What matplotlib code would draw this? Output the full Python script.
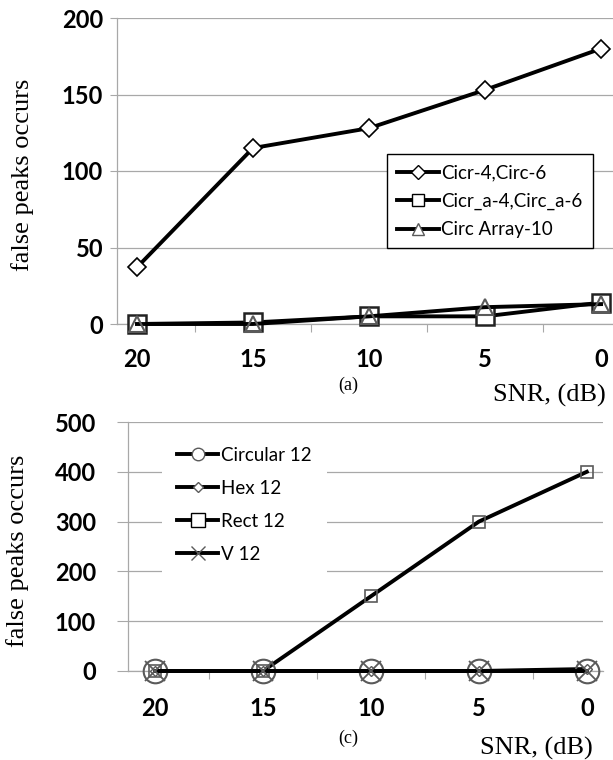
import numpy as np
import matplotlib
matplotlib.use('Agg')
import matplotlib.pyplot as plt
from matplotlib.lines import Line2D

# donnees
snr = ['20', '15', '10', '5', '0']

circ46 = [37, 115, 128, 153, 180]      # Cicr-4,Circ-6
circa46 = [0, 1, 5, 5, 14]             # Cicr_a-4,Circ_a-6
circ10 = [0, 0, 5, 11, 13]             # Circ Array-10

circular12 = [0, 0, 0, 0, 0]
hex12 = [0, 0, 0, 0, 4]
rect12 = [0, 0, 150, 300, 400]
v12 = [0, 0, 0, 0, 0]

W, H = 613, 760
grid_col = '#a8a8a8'
mark_col = '#5a5a5a'
tick_font = dict(family='Lato', weight='bold', size=17)
serif = 'Liberation Serif'

fig = plt.figure(figsize=(W / 100, H / 100), dpi=100)
ax1 = fig.add_axes([117 / W, 1 - 324 / H, (613 - 117) / W, (324 - 18) / H])
ax2 = fig.add_axes([128 / W, 1 - 671 / H, (603 - 128) / W, (671 - 422) / H])

x = np.arange(len(snr))


def style_axes(ax, ymax, step, xlim, ylen, ypad, xpad):
    ax.set_xlim(*xlim)
    ax.set_ylim(0, ymax)
    ax.set_yticks(np.arange(0, ymax + 1, step))
    ax.set_xticks(x)
    ax.set_xticklabels(snr, fontdict=tick_font)
    ax.set_yticklabels([str(v) for v in np.arange(0, ymax + 1, step)], fontdict=tick_font)
    ax.set_xticks(x[:-1] + 0.5, minor=True)
    ax.tick_params(axis='x', which='major', length=0, pad=xpad)
    ax.tick_params(axis='x', which='minor', length=6, width=0.8, color=grid_col, direction='out')
    ax.tick_params(axis='y', length=ylen, width=0.8, color=grid_col, pad=ypad)
    ax.yaxis.grid(True, color=grid_col, linewidth=0.9)
    ax.set_axisbelow(True)
    for s in ['top', 'right']:
        ax.spines[s].set_visible(False)
    for s in ['left', 'bottom']:
        ax.spines[s].set_color(grid_col)
        ax.spines[s].set_linewidth(0.9)


style_axes(ax1, 200, 50, (-0.172, 4.103), 5, 5, 17)
style_axes(ax2, 500, 100, (-0.25, 4.15), 8, 15, 19)

lw = 2.8
# (a)
ax1.plot(x, circ46, color='black', lw=lw, marker='D', ms=9.5, mfc='white',
         mec='black', mew=1.2, clip_on=False, zorder=3)
ax1.plot(x, circa46, color='black', lw=lw, marker='s', ms=13, mfc='white',
         mec='#222222', mew=1.8, clip_on=False, zorder=3)
ax1.plot(x, circ10, color='black', lw=lw, marker='^', ms=12, mfc='none',
         mec=mark_col, mew=1.5, clip_on=False, zorder=4)

h1 = [Line2D([], [], color='black', lw=lw, marker='D', ms=7, mfc='white', mec='black', mew=1),
      Line2D([], [], color='black', lw=lw, marker='s', ms=9, mfc='white', mec='black', mew=1),
      Line2D([], [], color='black', lw=lw, marker='^', ms=9, mfc='white', mec=mark_col, mew=1)]
leg1 = ax1.legend(h1, ['Cicr-4,Circ-6', 'Cicr_a-4,Circ_a-6', 'Circ Array-10'],
                  loc='upper left', bbox_to_anchor=(387 / W, 1 - 154 / H),
                  bbox_transform=fig.transFigure, prop=dict(family='Lato', size=13.5),
                  frameon=True, fancybox=False, edgecolor='black', framealpha=1,
                  handlelength=2.2, handletextpad=0.15, labelspacing=0.6,
                  borderpad=0.55, borderaxespad=0)
leg1.get_frame().set_linewidth(1)

# (c)
ax2.plot(x, rect12, color='black', lw=lw, marker='s', ms=8, mfc='none',
         mec=mark_col, mew=1.2, clip_on=False, zorder=3)
ax2.plot(x, hex12, color='black', lw=lw, marker='D', ms=5, mfc='white',
         mec=mark_col, mew=1, clip_on=False, zorder=3)
ax2.plot(x, circular12, color='black', lw=lw, marker='o', ms=17, mfc='none',
         mec=mark_col, mew=1.5, clip_on=False, zorder=4)
ax2.plot(x, v12, color='black', lw=lw, marker='x', ms=15, mec=mark_col,
         mew=1.3, clip_on=False, zorder=4)

h2 = [Line2D([], [], color='black', lw=lw, marker='o', ms=9, mfc='white', mec=mark_col, mew=1),
      Line2D([], [], color='black', lw=lw, marker='D', ms=5, mfc='white', mec=mark_col, mew=1),
      Line2D([], [], color='black', lw=lw, marker='s', ms=10, mfc='white', mec='black', mew=1),
      Line2D([], [], color='black', lw=lw, marker='x', ms=10, mec=mark_col, mew=1)]
leg2 = ax2.legend(h2, ['Circular 12', 'Hex 12', 'Rect 12', 'V 12'],
                  loc='upper left', bbox_to_anchor=(162 / W, 1 - 432 / H),
                  bbox_transform=fig.transFigure, prop=dict(family='Lato', size=13.5),
                  frameon=True, fancybox=False, edgecolor='none', framealpha=1,
                  handlelength=2.2, handletextpad=0.15, labelspacing=0.85,
                  borderpad=0.8, borderaxespad=0)

# titres d'axes et legendes des sous-figures
for ylab_x, ylab_y in [(23, 175), (18, 551)]:
    fig.text(ylab_x / W, 1 - ylab_y / H, 'false peaks occurs', rotation=90,
             ha='center', va='center', family=serif, fontsize=19)
fig.text(348 / W, 1 - 385 / H, '(a)', ha='center', va='center', family=serif, fontsize=13)
fig.text(348 / W, 1 - 738 / H, '(c)', ha='center', va='center', family=serif, fontsize=13)
fig.text(606 / W, 1 - 395 / H, 'SNR, (dB)', ha='right', va='center', family=serif, fontsize=19)
fig.text(593 / W, 1 - 748 / H, 'SNR, (dB)', ha='right', va='center', family=serif, fontsize=19)

fig.savefig('out.png', dpi=100)
